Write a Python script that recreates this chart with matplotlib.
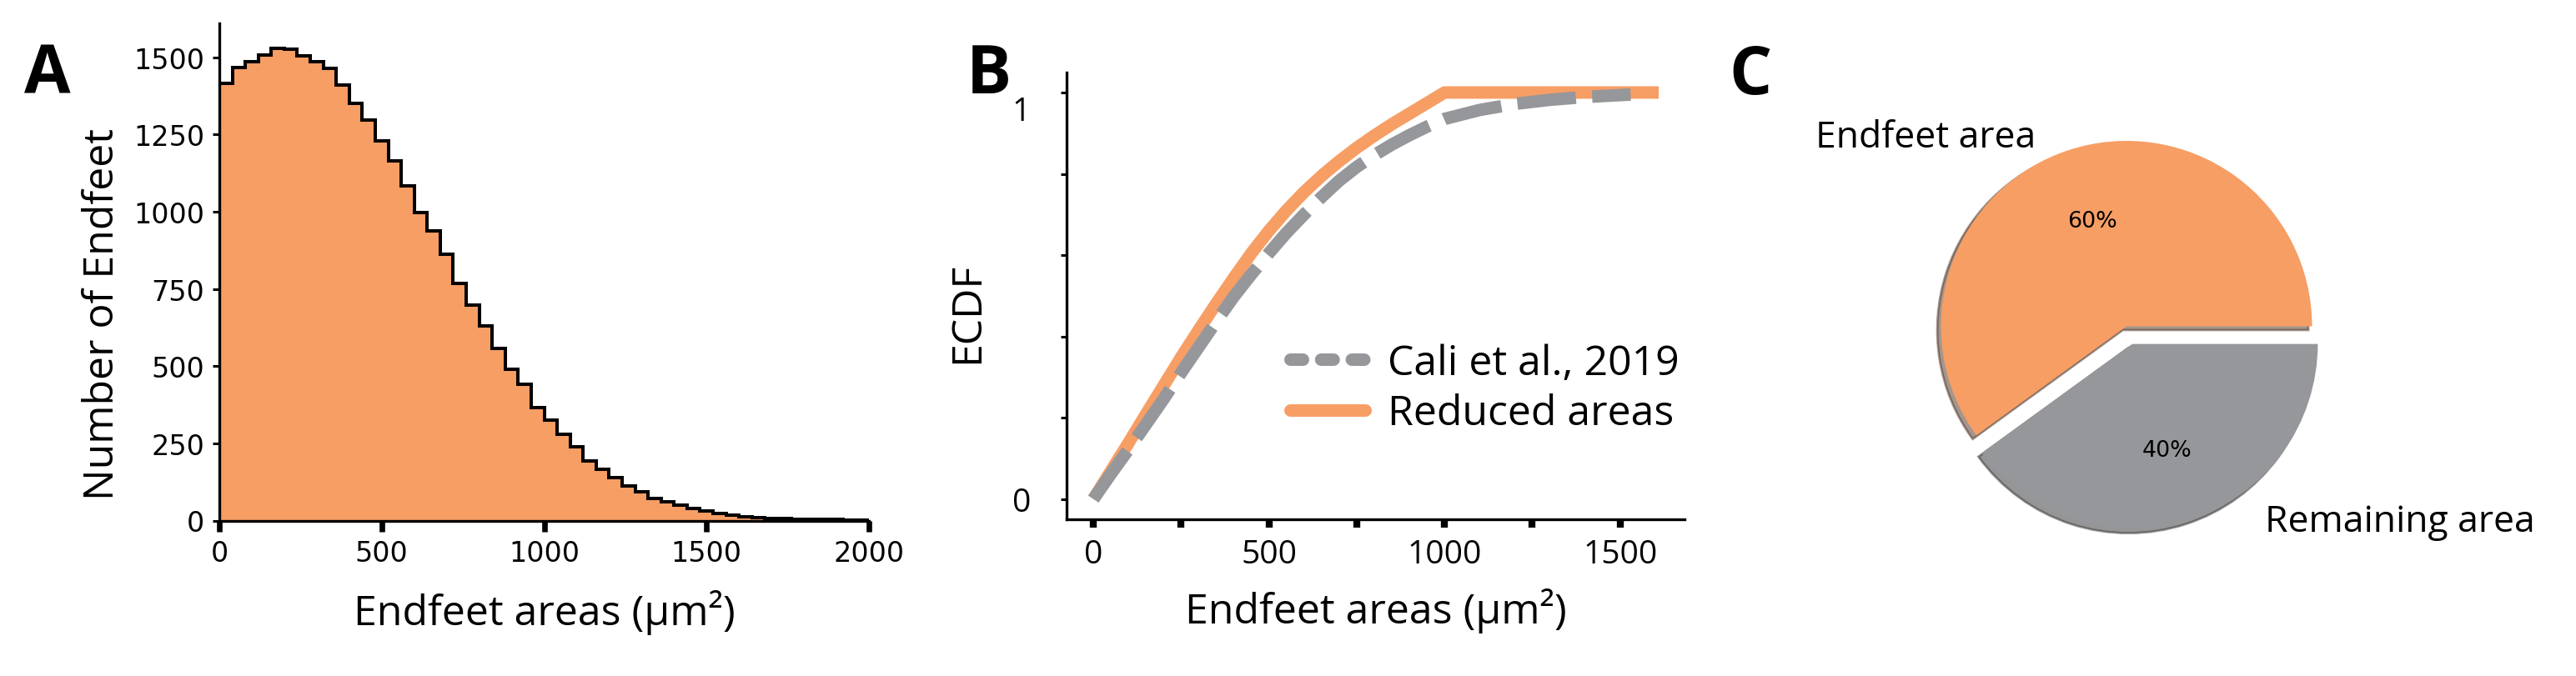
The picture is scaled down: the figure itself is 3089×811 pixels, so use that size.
import numpy as np
import matplotlib
matplotlib.use('Agg')
import matplotlib.pyplot as plt
from matplotlib import transforms as mtransforms

ORANGE = '#f79e65'
GRAY = '#96979a'
LABEL_FONT = 'Open Sans'

# panel A: endfeet area histogram, bins of 40 um2 from 0 to 2000
bin_edges = np.arange(0, 2001, 40)
endfeet_counts = [1417, 1467, 1487, 1507, 1528, 1525, 1504, 1485, 1465, 1411,
                  1352, 1298, 1230, 1164, 1083, 997, 938, 863, 767, 697,
                  630, 558, 490, 441, 367, 324, 279, 239, 194, 167,
                  140, 113, 93, 71, 62, 49, 39, 30, 22, 17,
                  12, 9, 8, 7, 5, 4, 3, 3, 2, 2]

# panel B: ECDFs
cali_x = [0, 50, 100, 150, 200, 250, 300, 350, 400, 450, 500, 550, 600, 650,
          700, 750, 800, 850, 900, 950, 1000, 1100, 1200, 1300, 1400, 1530]
cali_ecdf = [0.0, 0.062, 0.122, 0.184, 0.246, 0.311, 0.374, 0.437, 0.498, 0.553,
             0.605, 0.655, 0.700, 0.743, 0.783, 0.817, 0.846, 0.872, 0.895, 0.916,
             0.935, 0.957, 0.972, 0.982, 0.989, 0.995]
reduced_x = [0, 50, 100, 150, 200, 250, 300, 350, 400, 450, 500, 550, 600, 650,
             700, 750, 800, 850, 900, 950, 1000, 1610]
reduced_ecdf = [0.0, 0.069, 0.138, 0.209, 0.279, 0.349, 0.416, 0.481, 0.544, 0.605,
                0.660, 0.710, 0.755, 0.795, 0.831, 0.864, 0.894, 0.922, 0.948, 0.974,
                1.0, 1.0]

# panel C: area share
pie_labels = ['Endfeet area', 'Remaining area']
pie_values = [60, 40]

W, H = 3089, 812
DPI = 200
fig = plt.figure(figsize=(W / DPI, H / DPI), dpi=DPI)


def px_axes(left, top, right, bottom):
    return fig.add_axes([left / W, 1 - bottom / H, (right - left) / W, (bottom - top) / H])


# ---- A ----
ax_a = px_axes(263, 29, 1042, 625.5)
ax_a.stairs(endfeet_counts, bin_edges, fill=True, color=ORANGE, lw=0)
ax_a.stairs(endfeet_counts, bin_edges, color='black', lw=1.45)
ax_a.set_xlim(0, 2000)
ax_a.set_ylim(0, 1610)
ax_a.set_xticks([0, 500, 1000, 1500, 2000])
ax_a.set_yticks(range(0, 1501, 250))
for s in ['top', 'right']:
    ax_a.spines[s].set_visible(False)
for s in ['left', 'bottom']:
    ax_a.spines[s].set_linewidth(1.2)
ax_a.tick_params(axis='x', width=2.4, length=4.7, labelsize=12, pad=3.3)
ax_a.tick_params(axis='y', width=1.1, length=3.0, labelsize=12, pad=3.3)
ax_a.set_xlabel('Endfeet areas (µm²)', fontfamily=LABEL_FONT, fontsize=18)
ax_a.set_ylabel('Number of Endfeet', fontfamily=LABEL_FONT, fontsize=18)
ax_a.xaxis.set_label_coords(0.5, -0.138)
ax_a.yaxis.set_label_coords(-0.1476, 0.4158)

# ---- B ----
ax_b = px_axes(1279, 87.6, 2020, 624)
ln_red, = ax_b.plot(reduced_x, reduced_ecdf, color=ORANGE, lw=5.4,
                    solid_capstyle='butt', solid_joinstyle='round',
                    label='Reduced areas')
ln_cali, = ax_b.plot(cali_x, cali_ecdf, color=GRAY, lw=5.4,
                     linestyle=(0, (4.7, 1.3)), dash_capstyle='butt',
                     label='Cali et al., 2019')
ax_b.set_xlim(-76.5, 1683.6)
ax_b.set_ylim(-0.05, 1.05)
ax_b.set_xticks(np.arange(0, 1501, 250))
ax_b.set_xticklabels(['0', '', '500', '', '1000', '', '1500'])
ax_b.set_yticks(np.linspace(0, 1, 6))
ax_b.set_yticklabels(['0', '', '', '', '', '1'])
for s in ['top', 'right']:
    ax_b.spines[s].set_visible(False)
for s in ['left', 'bottom']:
    ax_b.spines[s].set_linewidth(1.2)
ax_b.tick_params(axis='x', width=3.0, length=3.5, labelsize=14, pad=4.9)
ax_b.tick_params(axis='y', width=1.1, length=2.5, labelsize=14, pad=13)
for lab in ax_b.get_xticklabels() + ax_b.get_yticklabels():
    lab.set_fontfamily(LABEL_FONT)
# the "1" label sits a little below its tick in the original
lab1 = ax_b.yaxis.get_major_ticks()[-1].label1
lab1.set_transform(lab1.get_transform()
                   + mtransforms.ScaledTranslation(0, -19 / DPI, fig.dpi_scale_trans))
ax_b.set_xlabel('Endfeet areas (µm²)', fontfamily=LABEL_FONT, fontsize=18)
ax_b.set_ylabel('ECDF', fontfamily=LABEL_FONT, fontsize=18)
ax_b.xaxis.set_label_coords(0.5, -0.153)
ax_b.yaxis.set_label_coords(-0.127, 0.464)

leg = ax_b.legend(handles=[ln_cali, ln_red], loc='center left',
                  bbox_to_anchor=(0.361, 0.2918), frameon=False,
                  borderpad=0, borderaxespad=0, handlelength=1.8,
                  handletextpad=0.55, labelspacing=0.22,
                  prop={'family': LABEL_FONT, 'size': 18})
leg_lines = leg.get_lines()
leg_lines[0].set_dashes([1.0, 1.45])
leg_lines[0].set_dash_capstyle('round')
leg_lines[1].set_solid_capstyle('round')

# ---- C ----
ax_c = px_axes(2290, 120, 2830, 700)
shadow_off = -0.02 * 72 / DPI
wedges, texts, autotexts = ax_c.pie(
    pie_values, labels=pie_labels, colors=[ORANGE, GRAY], explode=[0, 0.1],
    shadow={'ox': shadow_off, 'oy': shadow_off}, autopct='%1.0f%%', startangle=0,
    textprops={'fontfamily': LABEL_FONT, 'fontsize': 16})
for t in autotexts:
    t.set_fontfamily('DejaVu Sans')
    t.set_fontsize(9.7)
texts[0].set_position((-0.49, 0.9685))
texts[0].set_va('baseline')
texts[1].set_position((0.746, -1.103))
texts[1].set_va('baseline')
ax_c.set_aspect('auto')
ax_c.set_xlim((2290 - 2550) / 222.5, (2830 - 2550) / 222.5)
ax_c.set_ylim((392.5 - 700) / 222.5, (392.5 - 120) / 222.5)

# panel letters
for letter, x in [('A', 29), ('B', 1159), ('C', 2073)]:
    fig.text(x / W, 1 - 112.5 / H, letter, fontfamily=LABEL_FONT,
             fontweight='bold', fontsize=29, va='baseline', ha='left')

fig.savefig('out.png', dpi=DPI)
